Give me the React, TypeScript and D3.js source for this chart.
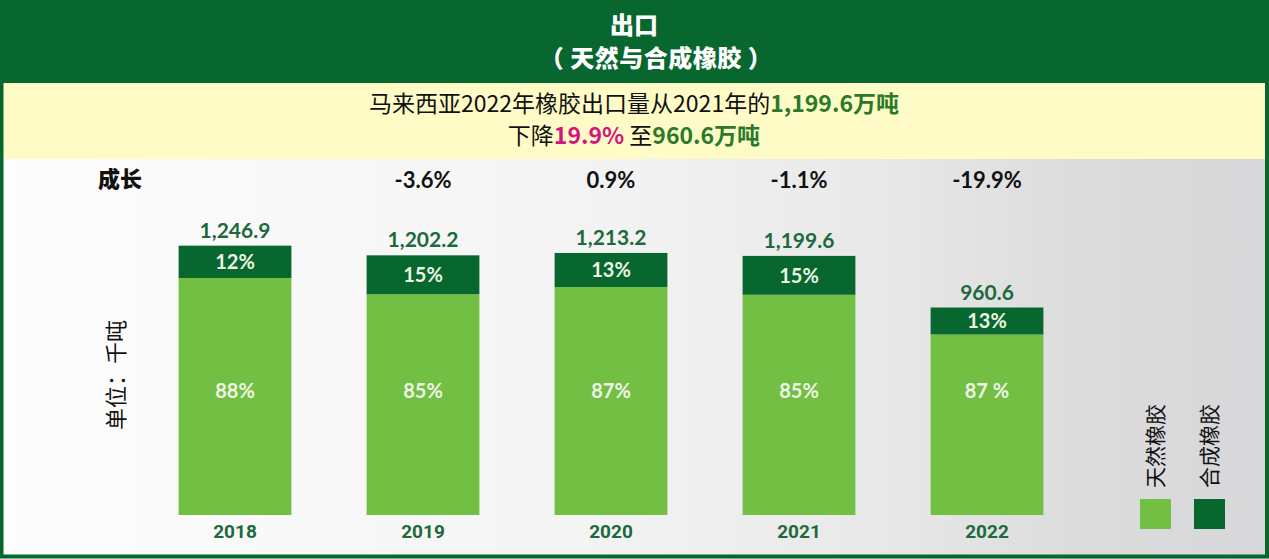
import React from 'react';
import * as d3 from 'd3';

const years = ['2018', '2019', '2020', '2021', '2022'];
const totals = [1246.9, 1202.2, 1213.2, 1199.6, 960.6];
const syntheticPct = [12, 15, 13, 15, 13];
const naturalPct = [88, 85, 87, 85, 87];
const naturalLabels = ['88%', '85%', '87%', '85%', '87 %'];
const growthLabels = ['', '-3.6%', '0.9%', '-1.1%', '-19.9%'];
const legendLabels = ['天然橡胶', '合成橡胶'];

const W = 1269;
const H = 559;
const DARK = '#07672f';
const LIGHT = '#72bf44';
const LABEL_GREEN = '#1c6a3c';
const CJK = '"Noto Sans CJK SC", "Noto Sans", sans-serif';
const NUM = 'Lato, "Open Sans", sans-serif';

export default function App() {
  const x = d3.scaleBand<string>().domain(years).range([141, 1081]).paddingInner(0.4).paddingOuter(0.2);
  const y = d3.scaleLinear().domain([0, 1250]).range([515, 245]);
  const fmt = d3.format(',.1f');
  const bw = x.bandwidth();
  const naturalLabelY = 391;
  const colors = [LIGHT, DARK];

  return (
    <svg width={W} height={H} style={{ position: 'absolute', left: 0, top: 0, display: 'block' }}>
      <defs>
        <linearGradient id="bg" x1="0" x2="1" y1="0" y2="0">
          <stop offset="0" stopColor="#fdfdfd" />
          <stop offset="0.45" stopColor="#f4f4f4" />
          <stop offset="0.7" stopColor="#e8e8e8" />
          <stop offset="0.85" stopColor="#dcdcdd" />
          <stop offset="1" stopColor="#d7d7d9" />
        </linearGradient>
      </defs>
      {/* header */}
      <rect x={0} y={0} width={W} height={82} fill={DARK} />
      <rect x={0} y={82} width={W} height={77} fill="#fefbc6" />
      <rect x={0} y={159} width={W} height={H - 159} fill="url(#bg)" />
      <rect x={1.5} y={1.5} width={W - 3.5} height={H - 4} fill="none" stroke={DARK} strokeWidth={4} />
      <line x1={0} x2={W} y1={82} y2={82} stroke={DARK} strokeWidth={2} />

      <text x={634} y={34} textAnchor="middle" fill="#fff" fontFamily={CJK} fontWeight={900} fontSize={24}>出口</text>
      <text x={656} y={67} textAnchor="middle" fill="#fff" fontFamily={CJK} fontWeight={900} fontSize={24} letterSpacing={0.5}>（ 天然与合成橡胶 ）</text>

      <text x={634} y={112} textAnchor="middle" fontFamily={CJK} fontSize={23} fill="#111">
        马来西亚2022年橡胶出口量从2021年的<tspan fill="#2b7a2b" fontWeight={700}>1,199.6万吨</tspan>
      </text>
      <text x={634} y={144} textAnchor="middle" fontFamily={CJK} fontSize={23} fill="#111">
        下降<tspan fill="#d4157f" fontWeight={700}>19.9%</tspan> 至<tspan fill="#2b7a2b" fontWeight={700}>960.6万吨</tspan>
      </text>

      {/* growth row */}
      <text x={120} y={187} textAnchor="middle" fontFamily={CJK} fontWeight={900} fontSize={22} fill="#111">成长</text>
      {years.map((yr, i) => (
        <text key={'g' + yr} x={(x(yr) as number) + bw / 2} y={188} textAnchor="middle" fontFamily={NUM} fontWeight={700} fontSize={22} fill="#111">
          {growthLabels[i]}
        </text>
      ))}

      {/* y axis label */}
      <text transform="translate(124,375) rotate(-90)" textAnchor="middle" fontFamily={CJK} fontSize={22} fill="#111">单位：千吨</text>

      {/* bars */}
      {years.map((yr, i) => {
        const x0 = x(yr) as number;
        const nat = (totals[i] * naturalPct[i]) / 100;
        const yTop = y(totals[i]);
        const yMid = y(nat);
        const y0 = y(0);
        return (
          <g key={yr}>
            <rect x={x0} y={yMid} width={bw} height={y0 - yMid} fill={LIGHT} />
            <rect x={x0} y={yTop} width={bw} height={yMid - yTop} fill={DARK} />
            <text x={x0 + bw / 2} y={yTop - 8} textAnchor="middle" fontFamily={NUM} fontWeight={700} fontSize={21} fill={LABEL_GREEN}>
              {fmt(totals[i])}
            </text>
            <text x={x0 + bw / 2} y={(yTop + yMid) / 2} dy="0.36em" textAnchor="middle" fontFamily={NUM} fontWeight={700} fontSize={20} fill="#eef5e4">
              {syntheticPct[i]}%
            </text>
            <text x={x0 + bw / 2} y={naturalLabelY} dy="0.36em" textAnchor="middle" fontFamily={NUM} fontWeight={700} fontSize={20} fill="#eef5e4">
              {naturalLabels[i]}
            </text>
            <text x={x0 + bw / 2} y={538} textAnchor="middle" fontFamily="Roboto, sans-serif" fontWeight={700} fontSize={19} fill={LABEL_GREEN}>
              {yr}
            </text>
          </g>
        );
      })}

      {/* legend */}
      {legendLabels.map((lab, i) => {
        const lx = 1140 + i * 54;
        return (
          <g key={lab}>
            <rect x={lx} y={499} width={31} height={30} fill={colors[i]} />
            <text transform={`translate(${lx + 23},446) rotate(-90)`} textAnchor="middle" fontFamily={CJK} fontSize={21} fill="#111">{lab}</text>
          </g>
        );
      })}
    </svg>
  );
}
